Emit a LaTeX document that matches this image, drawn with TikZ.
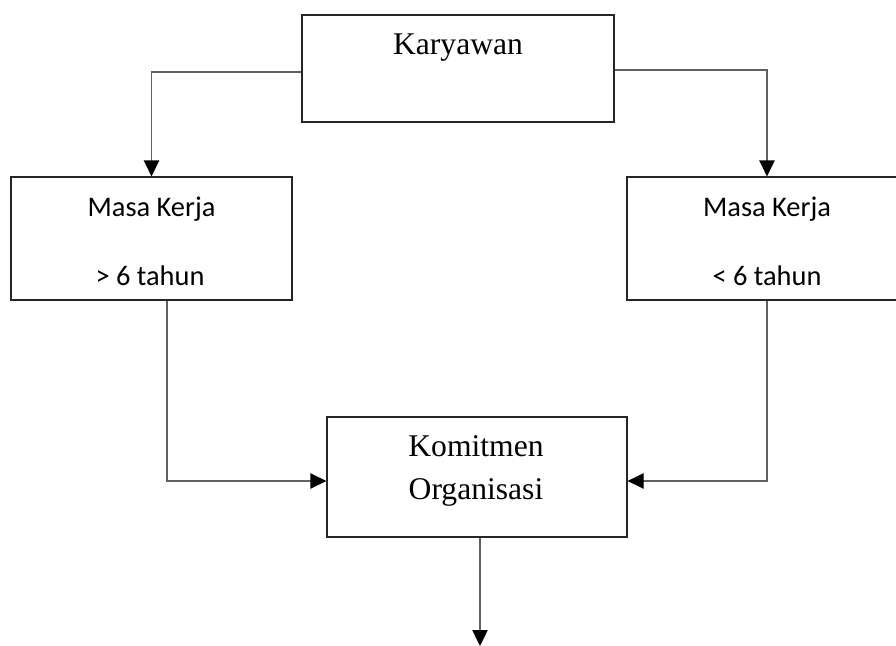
\documentclass[tikz,border=0pt]{standalone}
\usepackage{fontspec}
\setmainfont{Liberation Serif}
\newfontfamily\carl{Carlito}
\usetikzlibrary{arrows.meta}
\begin{document}
\begin{tikzpicture}[x=0.75pt,y=-0.75pt,
  box/.style={draw=black!85, line width=0.9pt, inner sep=0pt, rectangle},
  conn/.style={draw=black!62, line width=0.9pt, -{Triangle[length=12pt,width=11.5pt,color=black]}},
  sertxt/.style={anchor=base, inner sep=0pt, font=\fontsize{23.7}{28}\selectfont},
  santxt/.style={anchor=base, inner sep=0pt, font=\carl\fontsize{21.3}{26}\selectfont}]
\useasboundingbox (0,0) rectangle (896,646);
\clip (0,0) rectangle (896,646);
% boxes
\node[box, minimum width=234pt, minimum height=80.25pt] (kar) at (458,68.5) {};
\node[box, minimum width=210.75pt, minimum height=92.25pt] (mk1) at (151.5,238.5) {};
\node[box, minimum width=210pt, minimum height=92.25pt] (mk2) at (767,238.5) {};
\node[box, minimum width=225pt, minimum height=90pt] (kom) at (477,477) {};
% texts
\node[sertxt] (tk) at (458,54) {Karyawan};
\node[santxt] (t1a) at (151.5,216.7) {Masa Kerja};
\node[santxt] (t1b) at (150,285) {> 6 tahun};
\node[santxt] (t2a) at (767,216.7) {Masa Kerja};
\node[santxt] (t2b) at (767,285) {< 6 tahun};
\node[sertxt] (tka) at (476,456.7) {Komitmen};
\node[sertxt] (tkb) at (476,499) {Organisasi};
% connectors
\coordinate (endpt) at (480,646);
\draw[conn] ([yshift=-2.6pt]kar.west) -| (mk1.north);
\draw[conn] ([yshift=-1.1pt]kar.east) -| (mk2.north);
\draw[conn] ([xshift=11.6pt]mk1.south) |- ([yshift=-3pt]kom.west);
\draw[conn] (mk2.south) |- ([yshift=-3pt]kom.east);
\draw[conn] (kom.south -| endpt) -- (endpt);
\end{tikzpicture}
\end{document}
